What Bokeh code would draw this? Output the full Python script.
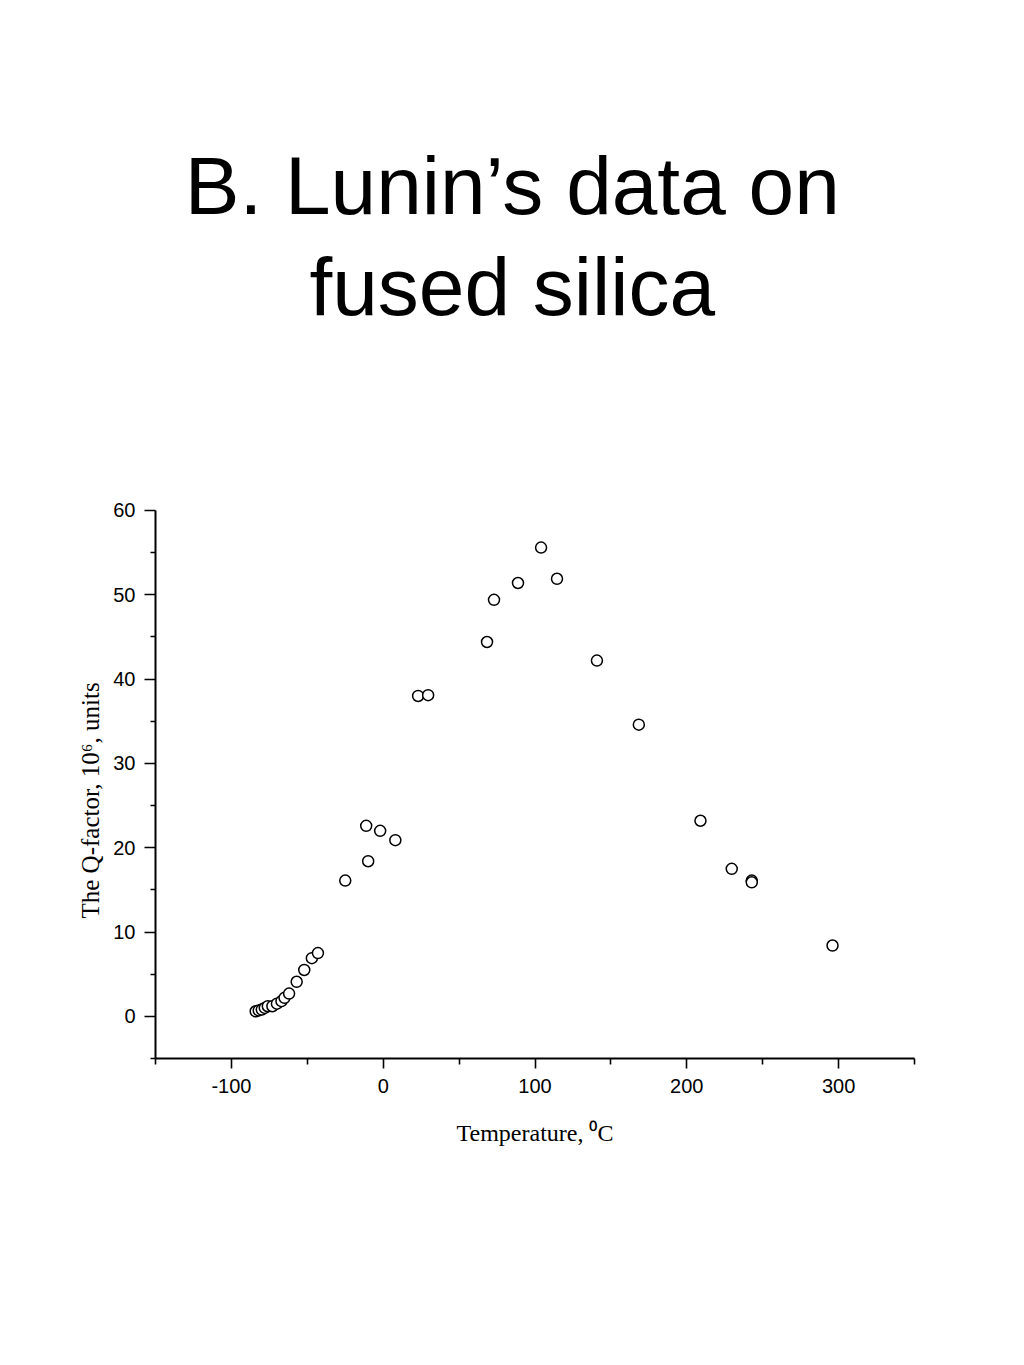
from bokeh.plotting import figure
from bokeh.models import Range1d, Label, FixedTicker, Title
from bokeh.embed import file_html
from bokeh.resources import INLINE

# Temperature (deg C) and Q-factor (10^6 units)
temperature = [-84, -82, -80, -78, -76, -73, -70, -67, -65, -62, -57, -52, -47, -43,
               -25, -11.2, -9.9, -2, 8, 23, 29.6, 68.4, 73, 88.8, 104, 114.5, 140.8,
               168.4, 209, 229.6, 242.8, 242.8, 296]
q_factor = [0.6, 0.7, 0.8, 1.0, 1.2, 1.2, 1.5, 1.8, 2.2, 2.7, 4.1, 5.5, 6.9, 7.5,
            16.1, 22.6, 18.4, 22.0, 20.9, 38.0, 38.1, 44.4, 49.4, 51.4, 55.6, 51.9, 42.2,
            34.6, 23.2, 17.5, 16.1, 15.9, 8.4]

x_ticks = [-100, 0, 100, 200, 300]
x_minor = [-150, -50, 50, 150, 250, 350]
y_ticks = [0, 10, 20, 30, 40, 50, 60]
y_minor = [-5, 5, 15, 25, 35, 45, 55]
title_lines = ["B. Lunin\u2019s data on", "fused silica"]
y_label = "The Q-factor, 10\u2076, units"
x_label = "Temperature, \u2070C"

# frame extends up to the top of the page so the title can sit inside it
p = figure(width=1008, height=1349, output_backend="svg", toolbar_location=None,
           x_range=Range1d(-150, 350), y_range=Range1d(-5, 120.49),
           min_border_left=155, min_border_right=94, min_border_top=0, min_border_bottom=291)
p.grid.visible = False
p.outline_line_color = None
p.background_fill_color = "white"
p.border_fill_color = "white"

p.scatter(temperature, q_factor, marker="circle", size=11, fill_color="white",
          line_color="black", line_width=1.5)

for ax in (p.xaxis[0], p.yaxis[0]):
    ax.axis_line_width = 2
    ax.major_tick_line_width = 1.6
    ax.minor_tick_line_width = 1.6
    ax.major_tick_in = 0
    ax.minor_tick_in = 0
    ax.major_label_text_font = "Liberation Sans"
    ax.major_label_text_font_size = "20px"
    ax.major_label_text_color = "black"
    ax.axis_label_text_font = "Liberation Serif"
    ax.axis_label_text_font_style = "normal"
    ax.axis_label_text_color = "black"

p.yaxis.bounds = (-5, 60)
p.xaxis.ticker = FixedTicker(ticks=x_ticks, minor_ticks=x_minor)
p.yaxis.ticker = FixedTicker(ticks=y_ticks, minor_ticks=y_minor)
p.xaxis.major_label_overrides = {t: str(t) for t in x_ticks}
p.yaxis.major_label_overrides = {t: str(t) for t in y_ticks}
p.xaxis.major_tick_out = 10
p.xaxis.minor_tick_out = 6
p.yaxis.major_tick_out = 11
p.yaxis.minor_tick_out = 5
p.xaxis.major_label_standoff = 10
p.yaxis.major_label_standoff = 9
p.xaxis.axis_label = x_label
p.xaxis.axis_label_text_font_size = "24px"
p.xaxis.axis_label_standoff = 24

# y-axis label as a left-side title, shifted to sit beside the drawn axis
p.add_layout(Title(text=y_label, align="left", offset=140, standoff=14,
                   text_font="Liberation Serif", text_font_style="normal",
                   text_font_size="25px", text_color="black"), "left")

for txt, yy in zip(title_lines, [98.5, 86.6]):
    p.add_layout(Label(x=85, y=yy, text=txt, text_align="center", text_baseline="alphabetic",
                       text_font="Liberation Sans", text_font_size="82px", text_color="black"))

open("out.html", "w").write(file_html(p, INLINE))
